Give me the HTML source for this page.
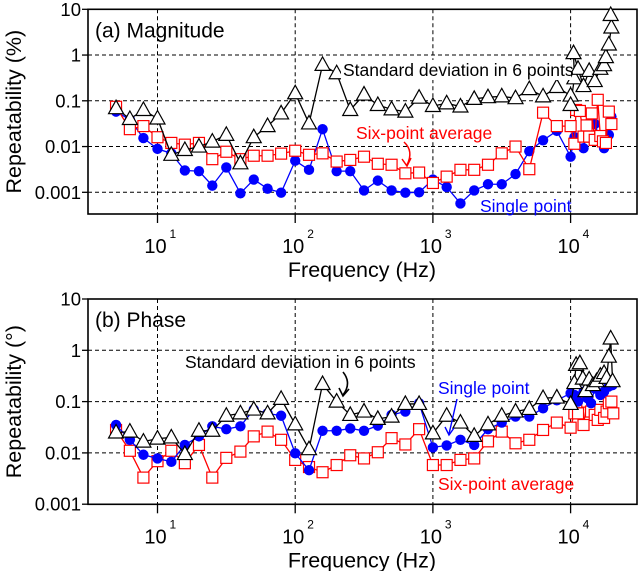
<!DOCTYPE html>
<html><head><meta charset="utf-8"><style>
body{margin:0;background:#fff;width:640px;height:571px;overflow:hidden}
svg text{font-family:"Liberation Sans",Arial,sans-serif}
</style></head><body>
<svg id="chart" width="640" height="571" xmlns="http://www.w3.org/2000/svg"></svg>
<script>
// ---- data ----
const mainFreqs=[5.0,6.3,7.9,10,12.6,15.8,20,25,31.6,40,50,63,79,100,126,158,200,251,316,398,501,631,794,1000,1259,1585,1995,2512,3162,3981,5012,6310,7943,10000];
const yTicks=[10,1,0.1,0.01,0.001];
const yTickLabels=["10","1","0.1","0.01","0.001"];
const xDecades=[10,100,1000,10000];
const xExponents=["1","2","3","4"];
// (a) magnitude
const magStdVals=[0.069,0.040,0.063,0.041,0.0066,0.0084,0.010,0.0128,0.018,0.0043,0.016,0.028,0.053,0.146,0.032,0.61,0.40,0.063,0.137,0.081,0.065,0.058,0.117,0.077,0.088,0.075,0.11,0.12,0.125,0.114,0.18,0.125,0.2,0.13];
const magStdExtraF=[10000,10650,10500,11320,12410,13640,14970,16440,17500,18040,18950,19780,19550];
const magStdExtraV=[0.081,0.31,1.1,0.5,0.21,0.45,0.27,0.5,0.6,0.9,1.7,4.0,7.5];
const magAvgVals=[0.074,0.024,0.028,0.016,0.012,0.011,0.012,0.0053,0.0077,0.0053,0.0063,0.0063,0.0070,0.0081,0.0066,0.0071,0.0047,0.0051,0.006,0.0042,0.0040,0.0026,0.0027,0.0016,0.0022,0.0031,0.0031,0.0040,0.0071,0.0100,0.0032,0.055,0.028,0.028];
const magAvgExtraF=[10650,10960,11680,12410,13060,13640,14250,14970,15740,16440,17180,18040,18950,19780];
const magAvgExtraV=[0.0115,0.063,0.06,0.0165,0.029,0.0165,0.053,0.014,0.105,0.017,0.013,0.012,0.058,0.031];
const magSingleVals=[0.058,0.039,0.0153,0.0089,0.0071,0.003,0.0029,0.0014,0.0035,0.00095,0.0019,0.0012,0.00098,0.0049,0.0031,0.024,0.0029,0.0029,0.0011,0.0018,0.0011,0.00098,0.001,0.0019,0.0013,0.00057,0.0011,0.0015,0.0015,0.0025,0.0079,0.0137,0.022,0.0060];
const magSingleExtraF=[10650,12410,13210,14970,16440,17500,18950,19780];
const magSingleExtraV=[0.016,0.0092,0.027,0.031,0.014,0.0092,0.018,0.045];
// (b) phase
const phStdVals=[0.025,0.026,0.0166,0.019,0.020,0.0095,0.027,0.027,0.053,0.059,0.070,0.059,0.113,0.036,0.0118,0.22,0.10,0.055,0.064,0.046,0.051,0.09,0.09,0.024,0.053,0.039,0.0215,0.036,0.053,0.064,0.072,0.117,0.12,0.09];
const phStdExtraF=[10650,10960,11680,12270,12820,13640,14520,15440,16440,17500,18250,18950,19550,20170];
const phStdExtraV=[0.23,0.52,0.56,0.28,0.16,0.27,0.21,0.25,0.32,0.36,0.29,0.75,1.7,0.25];
const phSingleVals=[0.035,0.018,0.0092,0.0078,0.0067,0.0143,0.021,0.033,0.029,0.033,0.070,0.059,0.053,0.0098,0.0046,0.027,0.027,0.030,0.027,0.034,0.055,0.064,0.093,0.0128,0.014,0.018,0.0143,0.029,0.039,0.051,0.051,0.074,0.106,0.145];
const phSingleExtraF=[10650,11320,12410,13210,14070,14970,16440,17500,18950,20170];
const phSingleExtraV=[0.135,0.10,0.156,0.117,0.093,0.18,0.135,0.156,0.197,0.21];
const phAvgVals=[0.028,0.011,0.0033,0.0069,0.011,0.0063,0.0143,0.0033,0.0080,0.0106,0.021,0.026,0.018,0.0073,0.0053,0.0042,0.0058,0.0090,0.0078,0.0103,0.0194,0.0146,0.029,0.0058,0.0058,0.0073,0.0078,0.0168,0.026,0.0154,0.018,0.028,0.039,0.031];
const phAvgExtraF=[10650,11320,12410,13210,14070,14970,15740,16440,17500,18250,18950,19780,20420];
const phAvgExtraV=[0.059,0.059,0.035,0.1,0.064,0.055,0.044,0.069,0.048,0.064,0.093,0.1,0.059];

// ---- drawing ----
const svg=document.getElementById('chart');
const NS='http://www.w3.org/2000/svg';
function mk(tag,attrs,parent){const e=document.createElementNS(NS,tag);for(const k in attrs)e.setAttribute(k,attrs[k]);(parent||svg).appendChild(e);return e;}
const L=88,R=637;
function xS(f){return 157.5+(Math.log10(f)-1)*137.7;}
const panels=[
 {top:9.3,bottom:214,dec:45.75,name:'magnitude'},
 {top:299,bottom:504.3,dec:51.3,name:'phase'}];
function yS(p,v){return p.top+(1-Math.log10(v))*p.dec;}

function drawPanel(p,title,ytitle,series){
  const g=mk('g',{});
  
  
  yTicks.forEach((t,i)=>{const y=yS(p,t);
    if(i>0&&y<p.bottom-1){const l=mk('line',{x1:L,x2:R,y1:y,y2:y,stroke:'#000','stroke-width':1,'stroke-dasharray':'4,3'},g);
    }
    const tl=mk('line',{x1:L-6,x2:L,y1:y,y2:y,stroke:'#000','stroke-width':1.3},g);
    
    const tx=mk('text',{x:L-7,y:y+6.5,'text-anchor':'end','font-size':18.5},g);tx.textContent=yTickLabels[i];
    
  });
  xDecades.forEach((d,i)=>{const x=xS(d);
    const l=mk('line',{x1:x,x2:x,y1:p.top,y2:p.bottom,stroke:'#000','stroke-width':1,'stroke-dasharray':'4,3'},g);
    
    const tk=mk('line',{x1:x,x2:x,y1:p.bottom,y2:p.bottom+9,stroke:'#000','stroke-width':1.3},g);
    
    const tx=mk('text',{x:x-2,y:p.bottom+39,'text-anchor':'middle','font-size':20},g);tx.textContent='10';
    
    const ex=mk('text',{x:x+12,y:p.bottom+24,'font-size':12},g);ex.textContent=xExponents[i];
    
  });
  const fr=mk('rect',{x:L,y:p.top,width:R-L,height:p.bottom-p.top,fill:'none',stroke:'#000','stroke-width':1.6},g);
  
  const xt=mk('text',{x:362,y:p.bottom+63,'text-anchor':'middle','font-size':21.5},g);xt.textContent='Frequency (Hz)';
  
  const cy=(p.top+p.bottom)/2;
  const yt=mk('text',{x:0,y:0,'text-anchor':'middle','font-size':21.5,transform:`translate(21,${cy}) rotate(-90)`},g);yt.textContent=ytitle;
  
  const pt=mk('text',{x:95,y:p.top+28,'font-size':21},g);pt.textContent=title;
  
  series.forEach(s=>{
    const fs=mainFreqs.concat(s.xf), vs=s.v.concat(s.xv);
    const pts=fs.map((f,i)=>[xS(f),yS(p,vs[i])]);
    const sg=mk('g',{},g);
    
    const pl=mk('polyline',{points:pts.map(q=>q.join(',')).join(' '),fill:'none',stroke:s.color,'stroke-width':1.3},sg);
    
    pts.forEach(([x,y])=>{let m;
      if(s.marker==='tri'){m=mk('polygon',{points:`${x},${y-8} ${x-7.5},${y+5.5} ${x+7.5},${y+5.5}`,fill:'#fff',stroke:'#000','stroke-width':1.2},sg);}
      else if(s.marker==='sq'){m=mk('rect',{x:x-5.5,y:y-5.5,width:11,height:11,fill:'#fff',stroke:'#f00','stroke-width':1.2},sg);}
      else {m=mk('circle',{cx:x,cy:y,r:5.2,fill:'#00f'},sg);}
      
      
    });
  });
  return g;
}
drawPanel(panels[0],'(a) Magnitude','Repeatability (%)',[
 {name:'single-point-series',marker:'circ',color:'#00f',v:magSingleVals,xf:magSingleExtraF,xv:magSingleExtraV},
 {name:'six-point-average-series',marker:'sq',color:'#f00',v:magAvgVals,xf:magAvgExtraF,xv:magAvgExtraV},
 {name:'std-deviation-series',marker:'tri',color:'#000',v:magStdVals,xf:magStdExtraF,xv:magStdExtraV}]);
drawPanel(panels[1],'(b) Phase','Repeatability (°)',[
 {name:'six-point-average-series',marker:'sq',color:'#f00',v:phAvgVals,xf:phAvgExtraF,xv:phAvgExtraV},
 {name:'single-point-series',marker:'circ',color:'#00f',v:phSingleVals,xf:phSingleExtraF,xv:phSingleExtraV},
 {name:'std-deviation-series',marker:'tri',color:'#000',v:phStdVals,xf:phStdExtraF,xv:phStdExtraV}]);
</script>
<svg width="640" height="571" style="position:absolute;left:0;top:0" xmlns="http://www.w3.org/2000/svg">
 <g font-family="Liberation Sans, Arial, sans-serif" font-size="17.5">
  <rect x="341" y="60" width="230" height="20" fill="#fff"/>
  <text x="343" y="76" fill="#000">Standard deviation in 6 points</text>
  <text x="356" y="139" fill="#f00">Six-point average</text>
  <text x="480" y="212" fill="#00f">Single point</text>
  <path d="M404,142 Q414,151 407,165" fill="none" stroke="#f00" stroke-width="1.5"/>
  <path d="M402,159 L407,166 L411,158" fill="none" stroke="#f00" stroke-width="1.5"/>
  <text x="185" y="368" fill="#000">Standard deviation in 6 points</text>
  <path d="M343,372 Q352,383 343,395" fill="none" stroke="#000" stroke-width="1.6"/>
  <path d="M339,388 L343,396 L349,389" fill="none" stroke="#000" stroke-width="1.6"/>
  <text x="438" y="394" fill="#00f">Single point</text>
  <path d="M457,399 L449,434" fill="none" stroke="#00f" stroke-width="1.4"/>
  <path d="M445,427 L449,435 L454,428" fill="none" stroke="#00f" stroke-width="1.4"/>
  <text x="438" y="490" fill="#f00">Six-point average</text>
 </g>
</svg>
</body></html>
